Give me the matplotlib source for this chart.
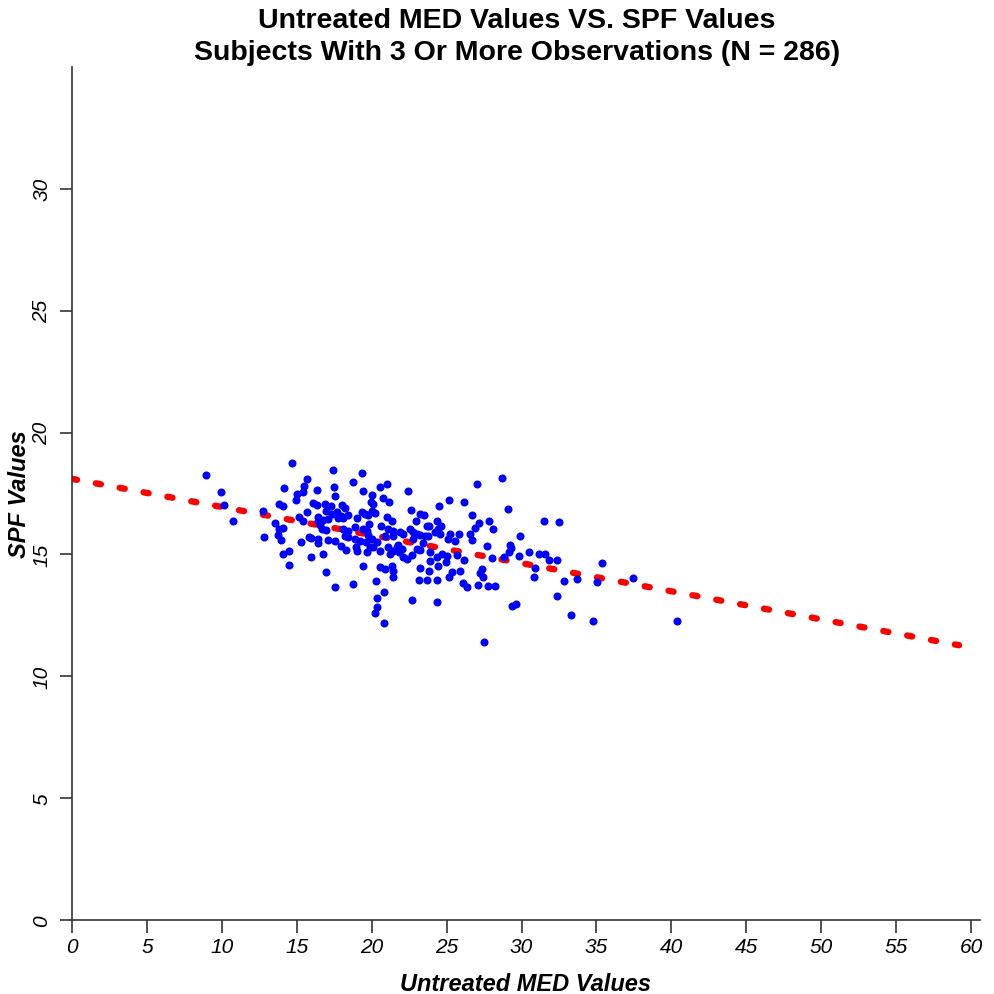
import matplotlib
matplotlib.use("Agg")
import matplotlib.pyplot as plt
import numpy as np

plt.rcParams['font.family'] = ['Liberation Sans', 'DejaVu Sans']

# untreated MED (x) and SPF (y)
med_values = [
    8.92, 9.97, 10.15, 10.77, 12.75, 12.82,
    14.67, 17.45, 15.67, 18.76, 14.17, 15.5, 16.38, 17.51, 15.0, 15.44, 17.58, 14.95,
    13.84, 14.09, 16.07, 16.33, 16.89, 17.29, 18.02, 18.22, 16.96, 17.67, 17.38, 18.11,
    18.44, 19.0, 13.55, 15.13, 15.39, 16.4, 16.56, 17.07, 16.67, 14.06, 13.84, 13.77,
    13.95, 15.3, 15.93, 16.44, 16.4, 17.11, 17.56, 17.96, 18.27, 18.4, 18.89, 19.23,
    19.63, 18.94, 19.0, 19.67, 19.89, 15.95, 16.78, 19.45, 16.94, 14.5, 14.1, 14.49,
    17.58, 18.78, 16.95, 18.11, 18.44, 18.89, 19.45, 19.67, 15.82, 18.22, 19.78, 16.45,
    16.78, 17.74, 17.96, 19.74, 19.38, 19.56, 15.67,
    19.34, 21.0, 20.56, 19.4, 22.45, 20.05, 20.78, 21.18, 19.94, 20.11, 20.05, 20.23,
    22.6, 21.0, 21.34, 22.96, 19.8, 20.6, 21.11, 21.41, 21.9, 22.56, 22.74, 22.12,
    20.89, 21.45, 20.01, 20.34, 20.11, 20.56, 21.11, 21.23, 21.45, 21.68, 21.85, 22.01,
    21.78, 22.12, 22.68, 22.34, 22.79, 23.01, 20.56, 20.89, 21.34, 21.41, 21.45, 20.29,
    20.83, 20.34, 22.68, 20.38, 20.23, 20.83,
    27.02, 28.73, 25.19, 26.17, 24.5, 29.08, 23.23, 23.52, 26.68, 24.34, 27.86, 27.19,
    23.67, 23.85, 24.6, 28.13, 26.9, 23.05, 23.79, 24.57, 25.23, 25.86, 26.57, 29.9,
    24.23, 24.46, 23.23, 23.56, 23.45, 25.12, 25.57, 26.68, 27.68, 29.24, 29.28, 29.17,
    23.23, 23.9, 24.68, 25.01, 25.68, 26.17, 28.02, 29.8, 23.9, 24.34, 23.23, 24.46,
    24.97, 25.35, 25.19, 25.9, 27.35, 27.24, 27.41, 23.85, 23.16, 23.72, 24.34, 26.12,
    26.35, 27.12, 27.74, 28.24, 24.34, 27.52, 29.35, 29.64, 28.86,
    31.47, 32.53, 30.53, 31.17, 31.58, 31.86, 32.35, 35.36, 30.93, 30.84, 32.84, 33.69,
    35.07, 37.43, 32.35, 33.29, 34.76, 40.37,
]
spf_values = [
    18.24, 17.57, 17.03, 16.39, 16.79, 15.71,
    18.75, 18.48, 18.09, 17.99, 17.74, 17.8, 17.65, 17.76, 17.47, 17.55, 17.4, 17.23,
    17.06, 16.97, 17.09, 17.03, 17.06, 16.98, 17.04, 16.9, 16.79, 16.73, 16.64, 16.5,
    16.6, 16.49, 16.28, 16.54, 16.39, 16.36, 16.21, 16.46, 16.05, 16.1, 16.03, 15.8,
    15.6, 15.5, 15.66, 15.64, 15.46, 15.6, 15.57, 15.33, 15.19, 15.73, 15.64, 15.57,
    15.5, 15.32, 15.16, 15.09, 15.3, 14.9, 15.03, 14.53, 14.27, 15.16, 15.02, 14.57,
    13.65, 13.8, 16.0, 16.05, 15.98, 16.12, 16.05, 15.98, 15.71, 15.75, 15.78, 16.52,
    16.43, 16.49, 16.57, 16.62, 16.73, 16.65, 16.76,
    18.35, 17.9, 17.76, 17.62, 17.61, 17.45, 17.31, 17.17, 17.17, 17.07, 16.77, 16.7,
    16.84, 16.53, 16.39, 16.39, 16.25, 16.16, 16.05, 15.98, 15.91, 16.05, 15.91, 15.84,
    15.77, 15.77, 15.64, 15.5, 15.3, 15.16, 15.3, 15.02, 15.16, 15.3, 15.09, 15.23,
    15.4, 14.9, 14.96, 14.82, 15.64, 15.23, 14.47, 14.41, 14.54, 14.34, 14.09, 13.9,
    13.45, 13.22, 13.11, 12.86, 12.59, 12.19,
    17.9, 18.14, 17.22, 17.17, 16.98, 16.87, 16.64, 16.6, 16.6, 16.39, 16.39, 16.29,
    16.18, 16.16, 16.18, 16.05, 16.08, 15.84, 15.75, 15.84, 15.84, 15.84, 15.84, 15.77,
    15.91, 16.05, 15.8, 15.77, 15.48, 15.64, 15.57, 15.61, 15.34, 15.39, 15.27, 15.12,
    15.19, 15.09, 15.02, 14.93, 14.98, 14.79, 14.84, 14.95, 14.71, 14.88, 14.43, 14.54,
    14.68, 14.27, 14.06, 14.34, 14.41, 14.24, 14.06, 14.34, 13.94, 13.95, 13.95, 13.82,
    13.65, 13.75, 13.69, 13.69, 13.04, 11.42, 12.9, 12.97, 14.88,
    16.39, 16.35, 15.12, 15.02, 15.02, 14.79, 14.79, 14.64, 14.43, 14.09, 13.9, 14.0,
    13.86, 14.05, 13.31, 12.53, 12.25, 12.28,
]

# fitted line
intercept = 18.1
slope = -0.1153
fit_range = [0, 59.2]

x_ticks = list(range(0, 61, 5))
y_ticks = list(range(0, 31, 5))

W, H = 994, 995
fig = plt.figure(figsize=(W / 100, H / 100), dpi=100)
# plot region in pixels: left 72, right 980, bottom 921, top 68
ax = fig.add_axes([72 / W, (H - 921) / H, (980 - 72) / W, (921 - 68) / H])
ax.set_xlim(0, 60.6)
ax.set_ylim(0, 35)

ax.plot(med_values, spf_values, 'o', color='#0000ff', markersize=5.8,
        markeredgewidth=0, zorder=3)

fx = np.array(fit_range, dtype=float)
ax.plot(fx, intercept + slope * fx, color='#ff0000', linewidth=4.6,
        linestyle=(0, (0.8, 3.0)), dash_capstyle='round', zorder=2)

for s in ['top', 'right']:
    ax.spines[s].set_visible(False)
for s in ['left', 'bottom']:
    ax.spines[s].set_color('#333333')
    ax.spines[s].set_linewidth(1.2)

ax.set_xticks(x_ticks)
ax.set_yticks(y_ticks)
ax.tick_params(length=9, width=1.2, color='#333333', labelsize=15)
ax.tick_params(axis='x', pad=3)
ax.tick_params(axis='y', pad=6)
ax.set_xticklabels([str(t) for t in x_ticks], fontstyle='italic')
ax.set_yticklabels([str(t) for t in y_ticks], fontstyle='italic',
                   rotation=90, va='center')

ax.set_xlabel('Untreated MED Values', fontsize=17, fontweight='bold',
              fontstyle='italic', labelpad=12)
ax.set_ylabel('SPF Values', fontsize=17, fontweight='bold',
              fontstyle='italic', labelpad=1)

fig.text(0.52, 0.992, 'Untreated MED Values VS. SPF Values\n'
         'Subjects With 3 Or More Observations (N = 286)',
         ha='center', va='top', fontsize=20.5, fontweight='bold',
         linespacing=1.3)

fig.savefig('out.png', dpi=100)
